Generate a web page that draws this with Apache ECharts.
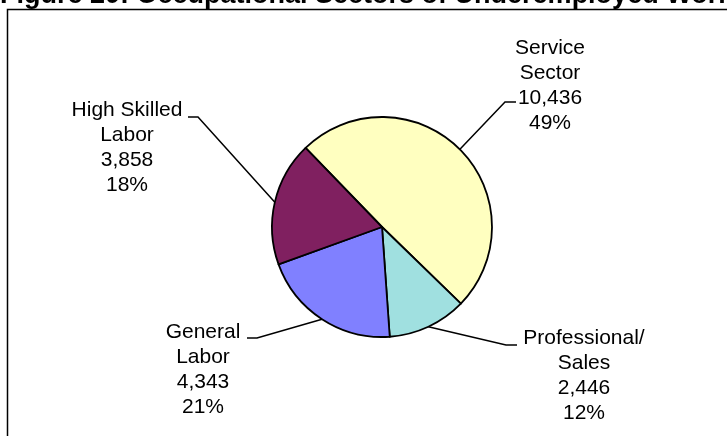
<!DOCTYPE html>
<html>
<head>
<meta charset="utf-8">
<script src="https://cdn.jsdelivr.net/npm/echarts@6/dist/echarts.min.js"></script>
<style>
  html, body { margin: 0; padding: 0; background: #fff; }
  #chart { width: 727px; height: 436px; }
</style>
</head>
<body>
<div id="chart"></div>
<script>
const categories = ['Service\nSector', 'Professional/\nSales', 'General\nLabor', 'High Skilled\nLabor']
const workers = [10436, 2446, 4343, 3858]
const sliceColors = ['#ffffc0', '#a0e0e0', '#8080ff', '#802060']

// where each label sits and where its leader line ends (px)
const labelSpots = [
  { x: 550, y: 36, end: [516, 102], elbow: [505, 102] },
  { x: 584, y: 326, end: [517, 345], elbow: [506, 345] },
  { x: 203, y: 320, end: [247, 338], elbow: [257, 338] },
  { x: 127, y: 98, end: [188, 117], elbow: [198, 117] }
]

const chart = echarts.init(document.getElementById('chart'))
chart.setOption({
  animation: false,
  title: {
    text: 'Figure 20: Occupational Sectors of Underemployed Workers',
    left: 0,
    top: -18,
    padding: 0,
    textStyle: {
      fontFamily: 'Arial, Liberation Sans',
      fontSize: 27,
      fontWeight: 'bold',
      color: '#000'
    }
  },
  graphic: [{
    type: 'rect',
    shape: { x: 7.5, y: 9.5, width: 800, height: 500 },
    style: { fill: 'none', stroke: '#000', lineWidth: 1.5 },
    z: -1
  }],
  series: [{
    type: 'pie',
    center: [382, 227],
    radius: 110,
    startAngle: 134,
    clockwise: true,
    percentPrecision: 0,
    data: categories.map((name, i) => ({
      name,
      value: workers[i],
      itemStyle: { color: sliceColors[i] }
    })),
    itemStyle: { borderColor: '#000', borderWidth: 1.8 },
    emphasis: { disabled: true },
    label: {
      show: true,
      position: 'outside',
      align: 'center',
      fontFamily: 'Arial, Liberation Sans',
      fontSize: 21,
      lineHeight: 25,
      color: '#000',
      formatter: p => p.name + '\n' + p.value.toLocaleString('en-US') + '\n' + p.percent + '%'
    },
    labelLine: {
      show: true,
      lineStyle: { color: '#000', width: 1.5 }
    },
    labelLayout: params => {
      const spot = labelSpots[params.dataIndex]
      const edge = params.labelLinePoints ? params.labelLinePoints[0] : spot.elbow
      return {
        x: spot.x,
        y: spot.y,
        align: 'center',
        verticalAlign: 'top',
        labelLinePoints: [edge, spot.elbow, spot.end]
      }
    }
  }]
})
</script>
</body>
</html>
